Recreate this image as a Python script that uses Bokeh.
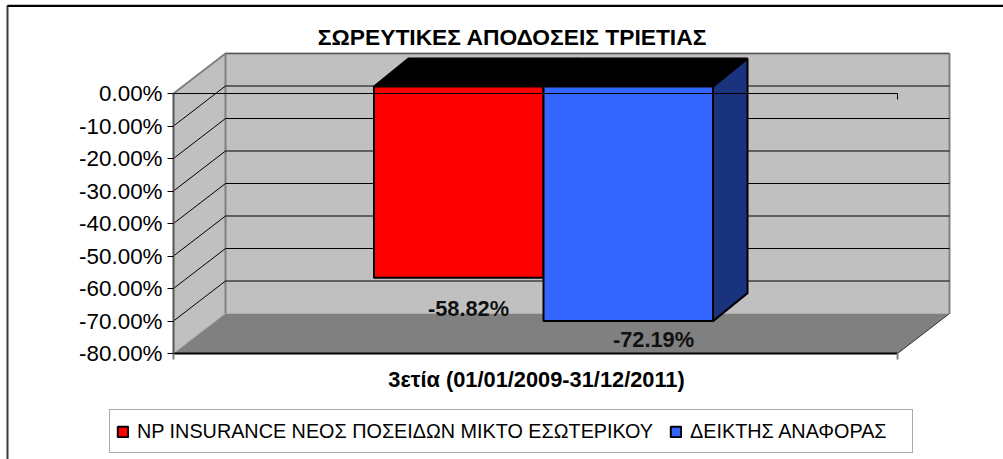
from bokeh.plotting import figure
from bokeh.embed import file_html
from bokeh.resources import INLINE
from bokeh.core.properties import value
from bokeh.models import (Range1d, LinearAxis, FixedTicker, NumeralTickFormatter,
                          Legend, LegendItem)

title = "ΣΩΡΕΥΤΙΚΕΣ ΑΠΟΔΟΣΕΙΣ ΤΡΙΕΤΙΑΣ"
category = "3ετία (01/01/2009-31/12/2011)"
series_names = ["NP INSURANCE ΝΕΟΣ ΠΟΣΕΙΔΩΝ ΜΙΚΤΟ ΕΣΩΤΕΡΙΚΟΥ", "ΔΕΙΚΤΗΣ ΑΝΑΦΟΡΑΣ"]
series_values = [-0.5882, -0.7219]
value_labels = ["-58.82%", "-72.19%"]
y_ticks = [0.0, -0.1, -0.2, -0.3, -0.4, -0.5, -0.6, -0.7, -0.8]

W, H = 1003, 459
PX = 325.0                # pixels per 100 %
Y0 = 93                   # pixel row of 0 %
def yv(py):               # pixel row -> value
    return (Y0 - py) / PX

FONT = "Liberation Sans"
p = figure(width=W, height=H, output_backend="svg", toolbar_location=None,
           x_range=Range1d(0, W), y_range=Range1d(yv(H), yv(0)),
           min_border=0, min_border_left=0, min_border_right=0, min_border_top=0, min_border_bottom=0,
           x_axis_type=None, y_axis_type=None, outline_line_color=None,
           background_fill_color="white", border_fill_color="white")
p.grid.visible = False

# plot geometry
XL, XR = 173, 897         # front plane
DX = 52                   # wall depth in x
DY = 40 / PX              # wall depth in y
lo, hi = y_ticks[-1], y_ticks[0]

# outer chart border
p.line([7, 7], [yv(H), yv(5)], line_color="#3a3a3a", line_width=2)
p.line([7, W], [yv(4), yv(4)], line_color="#c0c0c0", line_width=1)
p.line([7, W], [yv(5.5), yv(5.5)], line_color="black", line_width=2)

# walls
p.patch([XL + DX, XR + DX, XR + DX, XL + DX], [hi + DY, hi + DY, lo + DY, lo + DY],
        fill_color="#c0c0c0", line_color=None)
p.patch([XL, XL + DX, XL + DX, XL], [hi, hi + DY, lo + DY, lo],
        fill_color="#c0c0c0", line_color=None)
p.patch([XL, XL + DX, XR + DX, XR], [lo, lo + DY, lo + DY, lo],
        fill_color="#808080", line_color=None)
# wall edges
p.line([XL, XL + DX, XR + DX], [hi, hi + DY, hi + DY], line_color="#808080", line_width=2)
p.line([XL + DX, XR + DX], [hi + DY, hi + DY], line_color="#555555", line_width=1)
p.line([XL + DX, XL + DX], [hi + DY, lo + DY], line_color="#808080", line_width=2)
p.line([XR + DX, XR + DX], [hi + DY, lo + DY], line_color="#808080", line_width=2)
p.line([XL, XL + DX], [lo, lo + DY], line_color="#a0a0a0", line_width=1)
p.line([XR, XR + DX], [lo, lo + DY], line_color="#303030", line_width=1)

# gridlines
for t in y_ticks[1:-1]:
    p.line([XL, XL + DX, XR + DX], [t, t + DY, t + DY], line_color="black", line_width=1)

# bars
GAP_X, GAP_Y = 8, 7 / PX
BAR_W = 169.5
DEPTH_X, DEPTH_Y = 34.5, 28 / PX
xc = (XL + XR) / 2 + GAP_X
bar_colors = ["#ff0000", "#3366ff"]
side_colors = ["#8a0000", "#1a337f"]
legend_items = []
for i, v in enumerate(series_values):
    x0 = xc + (i - 1) * BAR_W
    x1 = x0 + BAR_W
    top = GAP_Y
    bot = v + GAP_Y
    p.patch([x1, x1 + DEPTH_X, x1 + DEPTH_X, x1], [top, top + DEPTH_Y, bot + DEPTH_Y, bot],
            fill_color=side_colors[i], line_color="black", line_width=2)
    p.patch([x0, x0 + DEPTH_X, x1 + DEPTH_X, x1], [top, top + DEPTH_Y, top + DEPTH_Y, top],
            fill_color="black", line_color="black", line_width=2)
for i, v in enumerate(series_values):
    x0 = xc + (i - 1) * BAR_W
    r = p.quad(left=[x0], right=[x0 + BAR_W], top=[GAP_Y], bottom=[v + GAP_Y],
               fill_color=bar_colors[i], line_color="black", line_width=2)
    legend_items.append(LegendItem(label=series_names[i], renderers=[r]))

# front axis lines (drawn over the bars)
p.line([XL, XR, XR], [hi, hi, yv(99)], line_color="black", line_width=1)
p.line([XL, XR], [lo, lo], line_color="black", line_width=2)
p.line([XR, XR], [lo, yv(359)], line_color="#808080", line_width=2)
p.line([XL, XL], [lo, yv(359)], line_color="#808080", line_width=2)

# value labels
for i, v in enumerate(series_values):
    cx = [468, 653][i]
    cy = [307.5, 338.5][i]
    p.text([cx], [yv(cy)], text=[value_labels[i]], text_font=value(FONT), text_font_size="21.8px",
           text_font_style="bold", text_align="center", text_baseline="middle", text_color="#111111")

# title and category label
p.text([512], [yv(36)], text=[title], text_font=value(FONT), text_font_size="22.8px",
       text_font_style="bold", text_align="center", text_baseline="middle", text_color="black")
p.text([536], [yv(379)], text=[category], text_font=value(FONT), text_font_size="21.8px",
       text_font_style="bold", text_align="center", text_baseline="middle", text_color="black")

# value axis
ax = LinearAxis(fixed_location=XL, ticker=FixedTicker(ticks=y_ticks),
                formatter=NumeralTickFormatter(format="0.00%"))
ax.bounds = (lo, hi)
ax.axis_line_color = "#555555"
ax.axis_line_width = 2
ax.major_tick_line_color = "black"
ax.major_tick_line_width = 1
ax.major_tick_in = 0
ax.major_tick_out = 6
ax.minor_tick_line_color = None
ax.major_label_standoff = 5
ax.major_label_text_font = FONT
ax.major_label_text_font_size = "22.4px"
ax.major_label_text_color = "black"
p.add_layout(ax, "left")

# legend
leg = Legend(items=legend_items, orientation="horizontal", location=(109, H - 453),
             glyph_width=13, glyph_height=13, label_standoff=8, spacing=16,
             padding=6, margin=0, border_line_color="#555555", border_line_width=1,
             label_width=216, label_height=30, label_text_font=FONT, label_text_font_size="19.8px",
             label_text_color="black", background_fill_alpha=1.0)
p.add_layout(leg, "center")

open("out.html", "w").write(file_html(p, INLINE))
